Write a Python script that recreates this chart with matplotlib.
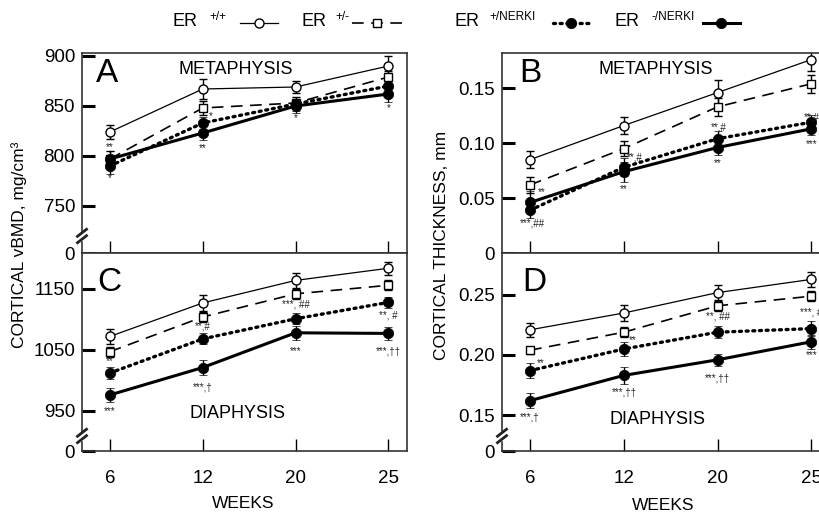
import matplotlib
matplotlib.use('Agg')
import matplotlib.pyplot as plt
from matplotlib.lines import Line2D

plt.rcParams['font.family'] = ['Liberation Sans', 'DejaVu Sans']

weeks = ['6', '12', '20', '25']
genotypes = ['+/+', '+/-', '+/NERKI', '-/NERKI']

# A: cortical vBMD, metaphysis (mg/cm3)
vbmd_meta_wt = [824, 867, 869, 890]
vbmd_meta_het = [797, 848, 853, 879]
vbmd_meta_nerki = [790, 833, 852, 870]
vbmd_meta_ko = [797, 823, 850, 862]
vbmd_meta_wt_se = [7, 10, 6, 10]
vbmd_meta_het_se = [8, 7, 6, 6]
vbmd_meta_nerki_se = [8, 6, 7, 7]
vbmd_meta_ko_se = [8, 7, 7, 8]

# B: cortical thickness, metaphysis (mm)
thick_meta_wt = [0.085, 0.116, 0.146, 0.176]
thick_meta_het = [0.062, 0.095, 0.133, 0.154]
thick_meta_nerki = [0.039, 0.078, 0.104, 0.119]
thick_meta_ko = [0.046, 0.074, 0.096, 0.113]
thick_meta_wt_se = [0.008, 0.008, 0.011, 0.010]
thick_meta_het_se = [0.007, 0.007, 0.008, 0.008]
thick_meta_nerki_se = [0.007, 0.008, 0.007, 0.007]
thick_meta_ko_se = [0.010, 0.009, 0.007, 0.006]

# C: cortical vBMD, diaphysis (mg/cm3)
vbmd_dia_wt = [1072, 1127, 1164, 1184]
vbmd_dia_het = [1047, 1104, 1142, 1156]
vbmd_dia_nerki = [1012, 1068, 1101, 1128]
vbmd_dia_ko = [976, 1021, 1078, 1077]
vbmd_dia_wt_se = [12, 13, 12, 11]
vbmd_dia_het_se = [8, 8, 8, 8]
vbmd_dia_nerki_se = [10, 9, 9, 9]
vbmd_dia_ko_se = [11, 13, 11, 10]

# D: cortical thickness, diaphysis (mm)
thick_dia_wt = [0.221, 0.235, 0.252, 0.263]
thick_dia_het = [0.204, 0.219, 0.241, 0.249]
thick_dia_nerki = [0.187, 0.205, 0.219, 0.222]
thick_dia_ko = [0.162, 0.183, 0.196, 0.211]
thick_dia_wt_se = [0.006, 0.007, 0.006, 0.006]
thick_dia_het_se = [0.003, 0.004, 0.004, 0.004]
thick_dia_nerki_se = [0.006, 0.006, 0.005, 0.006]
thick_dia_ko_se = [0.006, 0.007, 0.005, 0.006]

# significance labels: (week index, value, text)
annot_a = [(0, 809, '**'), (0, 778, '*'), (1.09, 840, '*'), (1, 808, '**'),
           (2, 838, '*'), (3, 848, '*')]
annot_b = [(0.12, 0.0555, '**'), (0.02, 0.0264, '***,##'), (1.12, 0.0873, '**,#'),
           (1, 0.058, '**'), (2.01, 0.1145, '**,#'), (2, 0.0818, '**'),
           (3.0, 0.1236, '**,#'), (3, 0.099, '***')]
annot_c = [(0, 1032, '**'), (0, 950, '***'), (1, 1088, '**,#'), (1, 989, '***,\u2020'),
           (2, 1124, '***, ##'), (2, 1048, '***'), (3, 1107, '**, #'),
           (3, 1048, '***,\u2020\u2020')]
annot_d = [(0.11, 0.1933, '**'), (0, 0.1483, '***,\u2020'), (1.09, 0.2125, '**'),
           (1, 0.169, '***,\u2020\u2020'), (2, 0.2317, '**, ##'),
           (2, 0.1808, '***,\u2020\u2020'), (3, 0.235, '***, #'), (3, 0.20, '***')]

styles = [
    dict(color='k', lw=0.9, ls='-', marker='o', ms=6.5, mfc='white', mew=1.0),
    dict(color='k', lw=1.2, ls=(0, (7, 4.5)), marker='s', ms=5.5, mfc='white', mew=1.0),
    dict(color='k', lw=2.4, ls=(0, (0.6, 1.4)), marker='o', ms=7.5, mfc='k', mew=0.5,
         dash_capstyle='round'),
    dict(color='k', lw=2.2, ls='-', marker='o', ms=7.5, mfc='k', mew=0.5),
]

fig = plt.figure(figsize=(8.2, 5.13), dpi=100)
W, H = 820, 513


def px_axes(left, top, right, bottom):
    return fig.add_axes([left / W, 1 - bottom / H, (right - left) / W, (bottom - top) / H])


ax_a = px_axes(82, 53, 407, 253)
ax_c = px_axes(82, 253, 407, 451)
ax_b = px_axes(502, 53, 830, 253)
ax_d = px_axes(502, 253, 830, 451)

x = list(range(len(weeks)))

panels = [
    (ax_a, [vbmd_meta_wt, vbmd_meta_het, vbmd_meta_nerki, vbmd_meta_ko],
     [vbmd_meta_wt_se, vbmd_meta_het_se, vbmd_meta_nerki_se, vbmd_meta_ko_se],
     (703, 903), [703, 750, 800, 850, 900], ['0', '750', '800', '850', '900'],
     'A', 'METAPHYSIS', (0.077, 0.9), (0.474, 0.92), annot_a, 0.085, True),
    (ax_b, [thick_meta_wt, thick_meta_het, thick_meta_nerki, thick_meta_ko],
     [thick_meta_wt_se, thick_meta_het_se, thick_meta_nerki_se, thick_meta_ko_se],
     (0.0, 0.182), [0, 0.05, 0.10, 0.15], ['0', '0.05', '0.10', '0.15'],
     'B', 'METAPHYSIS', (0.085, 0.895), (0.47, 0.92), annot_b, None, True),
    (ax_c, [vbmd_dia_wt, vbmd_dia_het, vbmd_dia_nerki, vbmd_dia_ko],
     [vbmd_dia_wt_se, vbmd_dia_het_se, vbmd_dia_nerki_se, vbmd_dia_ko_se],
     (884, 1209), [884, 950, 1050, 1150], ['0', '950', '1050', '1150'],
     'C', 'DIAPHYSIS', (0.083, 0.853), (0.48, 0.19), annot_c, 0.076, False),
    (ax_d, [thick_dia_wt, thick_dia_het, thick_dia_nerki, thick_dia_ko],
     [thick_dia_wt_se, thick_dia_het_se, thick_dia_nerki_se, thick_dia_ko_se],
     (0.12, 0.285), [0.12, 0.15, 0.20, 0.25], ['0', '0.15', '0.20', '0.25'],
     'D', 'DIAPHYSIS', (0.098, 0.853), (0.475, 0.16), annot_d, 0.076, False),
]

for (ax, series, errs, ylim, yt, ytl, letter, region, lpos, rpos,
     annots, brk, top) in panels:
    for vals, se, st in zip(series, errs, styles):
        ax.errorbar(x, vals, yerr=se, capsize=3, elinewidth=1.0, capthick=1.0,
                    ecolor='k', **st)
    ax.set_xlim(-0.3, 3.2)
    ax.set_ylim(*ylim)
    ax.set_yticks(yt)
    ax.set_yticklabels(ytl)
    ax.set_xticks(x)
    ax.set_xticklabels(weeks)
    ax.tick_params(axis='y', direction='in', length=9, width=2.2, labelsize=13.5, pad=5)
    ax.tick_params(axis='x', direction='in', length=9, width=1.0, labelsize=13.5, pad=14)
    if top:
        ax.tick_params(axis='x', labelbottom=False)
    for sp in ax.spines.values():
        sp.set_color('#333333')
        sp.set_linewidth(1.2)
    ax.text(*lpos, letter, transform=ax.transAxes, fontsize=24, ha='center', va='center')
    ax.text(*rpos, region, transform=ax.transAxes, fontsize=13, ha='center', va='center')
    for xi, yi, t in annots:
        ax.text(xi, yi, t, fontsize=7, ha='center', va='center', color='#222222')
    if brk is not None:
        bb = ax.get_position()
        sx = 4.5 / (bb.width * W)
        sy = 3.5 / (bb.height * H)
        g = 3.2 / (bb.height * H)
        ax.plot([0, 0], [brk - g, brk + g], transform=ax.transAxes, color='white',
                lw=2.5, clip_on=False, zorder=5)
        for off in (-g, g):
            ax.plot([-sx, sx], [brk + off - sy, brk + off + sy], transform=ax.transAxes,
                    color='#222222', lw=2.0, clip_on=False, zorder=6)

# axis labels
fig.text(19 / W, 1 - 245 / H, 'CORTICAL vBMD, mg/cm\u00b3', rotation=90,
         ha='center', va='center', fontsize=12.5)
fig.text(442 / W, 1 - 245 / H, 'CORTICAL THICKNESS, mm', rotation=90,
         ha='center', va='center', fontsize=12.5)
fig.text(243 / W, 1 - 503 / H, 'WEEKS', ha='center', va='center', fontsize=12.5)
fig.text(663 / W, 1 - 505 / H, 'WEEKS', ha='center', va='center', fontsize=12.5)

# legend across the top
leg_er_x = [173, 302, 455, 615]
leg_sup_x = [209, 335, 489, 652]
leg_handle_x = [(240, 278), (352, 402), (553, 590), (703, 740)]
for gt, ex, sx_, (h0, h1), st in zip(genotypes, leg_er_x, leg_sup_x, leg_handle_x, styles):
    fig.text(ex / W, 1 - 22 / H, 'ER', fontsize=13, ha='left', va='center')
    fig.text(sx_ / W, 1 - 17 / H, gt, fontsize=8.5, ha='left', va='center')
    line = Line2D([h0 / W, (h0 + h1) / 2 / W, h1 / W], [1 - 23 / H] * 3,
                  transform=fig.transFigure, markevery=[1], **st)
    fig.add_artist(line)

fig.savefig('out.png', dpi=100)
